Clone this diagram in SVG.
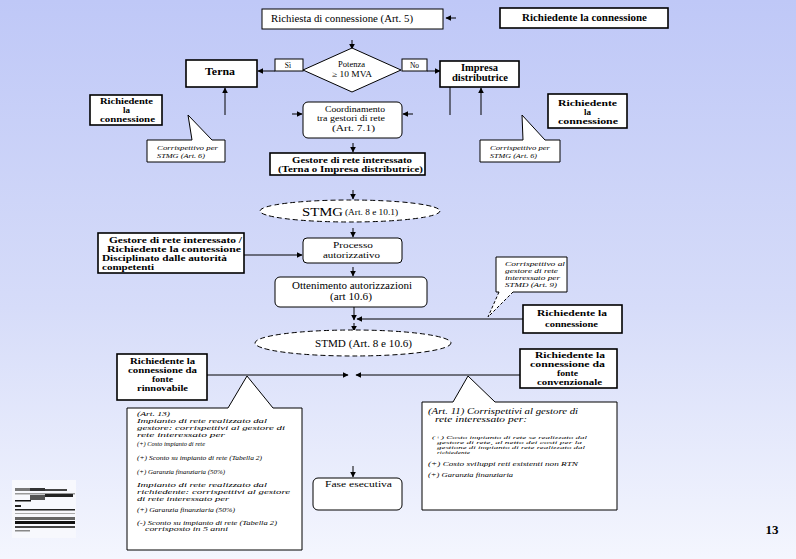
<svg xmlns="http://www.w3.org/2000/svg" width="796" height="559" viewBox="0 0 796 559">
<defs>
<linearGradient id="bg" x1="0" y1="0" x2="0" y2="1">
<stop offset="0" stop-color="#bfc8f7"/>
<stop offset="0.55" stop-color="#d6dcf9"/>
<stop offset="1" stop-color="#f4f6fe"/>
</linearGradient>
<marker id="ah" viewBox="0 0 10 10" refX="9" refY="5" markerWidth="6" markerHeight="6" orient="auto" markerUnits="userSpaceOnUse">
<path d="M0,0 L10,5 L0,10 Z" fill="#000"/>
</marker>
<style>
.box{fill:#fff;stroke:#000;stroke-width:1}
.bb{fill:#fff;stroke:#000;stroke-width:1.6}
.dash{fill:#fff;stroke:#000;stroke-width:1;stroke-dasharray:5 3}
.ln{fill:none;stroke:#000;stroke-width:1}
.ar{fill:none;stroke:#000;stroke-width:1;marker-end:url(#ah)}
text{font-family:"Liberation Serif","Times New Roman",serif;fill:#000}
.t{font-size:10px;text-anchor:middle}
.b{font-size:10px;font-weight:bold;text-anchor:middle}
.s{text-anchor:start}
.i{font-size:6.5px;font-style:italic}
.i8{font-size:8px;font-style:italic}
.i7{font-size:7px;font-style:italic}
.i5{font-size:5px;font-style:italic}
</style>
</defs>
<rect x="0" y="0" width="796" height="559" fill="url(#bg)"/>

<g id="connectors">
<line class="ar" x1="456" y1="18" x2="446" y2="18"/>
<line class="ar" x1="352" y1="40" x2="352" y2="49"/>
<line class="ar" x1="275" y1="71" x2="258" y2="71"/>
<line class="ar" x1="427" y1="71" x2="440" y2="71"/>
<line class="ar" x1="225" y1="115" x2="225" y2="88"/>
<line class="ln" x1="450" y1="87" x2="450" y2="115"/>
<line class="ar" x1="481" y1="115" x2="481" y2="88"/>
<line class="ar" x1="292" y1="114" x2="302" y2="114"/>
<line class="ar" x1="413" y1="114" x2="403" y2="114"/>
<line class="ar" x1="353" y1="143" x2="353" y2="152"/>
<line class="ar" x1="353" y1="190" x2="353" y2="199"/>
<line class="ar" x1="244" y1="255" x2="302" y2="255"/>
<line class="ar" x1="353" y1="228" x2="353" y2="237"/>
<line class="ar" x1="353" y1="267" x2="353" y2="276"/>
<line class="ar" x1="354" y1="307" x2="354" y2="320"/>
<line class="ar" x1="523" y1="319" x2="357" y2="319"/>
<line class="ar" x1="354" y1="323" x2="354" y2="331"/>
<line class="ar" x1="207" y1="375" x2="348" y2="375"/>
<line class="ar" x1="520" y1="375" x2="356" y2="375"/>
<line class="ar" x1="353" y1="466" x2="353" y2="477"/>
</g>

<g id="richiesta">
<rect class="box" x="262" y="9" width="181" height="20"/>
<text class="t s" x="271" y="22" textLength="142" lengthAdjust="spacingAndGlyphs">Richiesta di connessione (Art. 5)</text>
</g>
<g id="richiedente-top">
<rect class="bb" x="500" y="8" width="168" height="20"/>
<text class="b" x="584.5" y="21" textLength="125" lengthAdjust="spacingAndGlyphs">Richiedente la connessione</text>
</g>
<g id="potenza">
<polygon class="box" points="352,48 401,70 352,92 303,70"/>
<text class="t" x="351.5" y="67" style="font-size:8px" textLength="27" lengthAdjust="spacingAndGlyphs">Potenza</text>
<text class="t" x="352" y="77" style="font-size:8px" textLength="40" lengthAdjust="spacingAndGlyphs">≥ 10 MVA</text>
</g>
<g id="label-si">
<rect class="box" x="275" y="59" width="28" height="12"/>
<text class="t" x="288" y="68" style="font-size:7.5px">Sì</text>
</g>
<g id="label-no">
<rect class="box" x="402" y="59" width="25" height="12"/>
<text class="t" x="414.5" y="68" style="font-size:7.5px">No</text>
</g>
<g id="terna">
<rect class="bb" x="186" y="60" width="71" height="27"/>
<text class="b" x="220" y="75" textLength="30" lengthAdjust="spacingAndGlyphs">Terna</text>
</g>
<g id="impresa">
<rect class="bb" x="440" y="61" width="79" height="26"/>
<text class="b" x="479.5" y="71" textLength="37" lengthAdjust="spacingAndGlyphs">Impresa</text>
<text class="b" x="480" y="81" textLength="56" lengthAdjust="spacingAndGlyphs">distributrice</text>
</g>
<g id="coordinamento">
<rect class="box" x="303" y="102" width="99" height="36" rx="5"/>
<text class="t" x="355" y="112" style="font-size:9px" textLength="60" lengthAdjust="spacingAndGlyphs">Coordinamento</text>
<text class="t" x="351" y="121" style="font-size:9px" textLength="68" lengthAdjust="spacingAndGlyphs">tra gestori di rete</text>
<text class="t" x="353.5" y="131" style="font-size:9px" textLength="43" lengthAdjust="spacingAndGlyphs">(Art. 7.1)</text>
</g>
<g id="richiedente-left">
<rect class="bb" x="90" y="95" width="72" height="30"/>
<text class="b" x="126.5" y="104" style="font-size:9px" textLength="53" lengthAdjust="spacingAndGlyphs">Richiedente</text>
<text class="b" x="126.5" y="113" style="font-size:9px">la</text>
<text class="b" x="127.5" y="122" style="font-size:9px" textLength="55" lengthAdjust="spacingAndGlyphs">connessione</text>
</g>
<g id="richiedente-right">
<rect class="bb" x="548" y="94" width="79" height="34"/>
<text class="b" x="587.5" y="106" style="font-size:9px" textLength="59" lengthAdjust="spacingAndGlyphs">Richiedente</text>
<text class="b" x="587.5" y="115" style="font-size:9px">la</text>
<text class="b" x="588" y="124" style="font-size:9px" textLength="60" lengthAdjust="spacingAndGlyphs">connessione</text>
</g>
<g id="callout-stmg-left">
<path class="box" d="M147,140 H192 L188,115 L212,140 H225 V162 H147 Z"/>
<text class="i" x="157" y="150" textLength="61" lengthAdjust="spacingAndGlyphs">Corrispettivo per</text>
<text class="i" x="157" y="158" textLength="48" lengthAdjust="spacingAndGlyphs">STMG (Art. 6)</text>
</g>
<g id="callout-stmg-right">
<path class="box" d="M480,140 H523 L522,115 L545,140 H560 V162 H480 Z"/>
<text class="i" x="490" y="150" textLength="60" lengthAdjust="spacingAndGlyphs">Corrispettivo per</text>
<text class="i" x="490" y="158" textLength="47" lengthAdjust="spacingAndGlyphs">STMG (Art. 6)</text>
</g>
<g id="gestore">
<rect class="bb" x="270" y="153" width="155" height="22"/>
<text class="b" x="352" y="163" style="font-size:9px" textLength="120" lengthAdjust="spacingAndGlyphs">Gestore di rete interessato</text>
<text class="b" x="350.5" y="172" style="font-size:9px" textLength="145" lengthAdjust="spacingAndGlyphs">(Terna o Impresa distributrice)</text>
</g>
<g id="stmg">
<ellipse class="dash" cx="350" cy="211" rx="90" ry="11"/>
<text class="s" x="302" y="216" style="font-size:13px" textLength="41" lengthAdjust="spacingAndGlyphs">STMG</text>
<text class="s" x="345" y="215" style="font-size:8.5px" textLength="53" lengthAdjust="spacingAndGlyphs">(Art. 8 e 10.1)</text>
</g>
<g id="gestore-richiedente">
<rect class="bb" x="98" y="233" width="146" height="40"/>
<text class="b s" x="109" y="243" style="font-size:9px" textLength="133" lengthAdjust="spacingAndGlyphs">Gestore di rete interessato /</text>
<text class="b s" x="107" y="252" style="font-size:9px" textLength="134" lengthAdjust="spacingAndGlyphs">Richiedente la connessione</text>
<text class="b s" x="102" y="261" style="font-size:9px" textLength="125" lengthAdjust="spacingAndGlyphs">Disciplinato dalle autorità</text>
<text class="b s" x="102" y="270" style="font-size:9px" textLength="52" lengthAdjust="spacingAndGlyphs">competenti</text>
</g>
<g id="processo">
<rect class="box" x="303" y="238" width="99" height="25" rx="4"/>
<text class="t" x="353" y="248" style="font-size:9px" textLength="40" lengthAdjust="spacingAndGlyphs">Processo</text>
<text class="t" x="351.5" y="258" style="font-size:9px" textLength="57" lengthAdjust="spacingAndGlyphs">autorizzativo</text>
</g>
<g id="ottenimento">
<rect class="box" x="275" y="277" width="152" height="30" rx="5"/>
<text class="t" x="352" y="289" textLength="120" lengthAdjust="spacingAndGlyphs">Ottenimento autorizzazioni</text>
<text class="t" x="351" y="300" textLength="42" lengthAdjust="spacingAndGlyphs">(art 10.6)</text>
</g>
<g id="callout-stmd">
<polygon points="496,257 567,257 567,292 513,292 488,317 499,292 496,292" fill="#fff"/>
<path class="ln" d="M499,292 H496 V257 H567 V292 H513"/>
<path class="ln" stroke-dasharray="3 2" d="M499,292 L488,317 L513,292"/>
<text class="i" x="505" y="266" textLength="60" lengthAdjust="spacingAndGlyphs">Corrispettivo al</text>
<text class="i" x="505" y="273" textLength="53" lengthAdjust="spacingAndGlyphs">gestore di rete</text>
<text class="i" x="505" y="280" textLength="55" lengthAdjust="spacingAndGlyphs">interessato per</text>
<text class="i" x="505" y="287" textLength="52" lengthAdjust="spacingAndGlyphs">STMD (Art. 9)</text>
</g>
<g id="richiedente-stmd">
<rect class="bb" x="523" y="305" width="99" height="28"/>
<text class="b" x="572" y="316" style="font-size:9px" textLength="70" lengthAdjust="spacingAndGlyphs">Richiedente la</text>
<text class="b" x="571.5" y="327" style="font-size:9px" textLength="53" lengthAdjust="spacingAndGlyphs">connessione</text>
</g>
<g id="stmd">
<ellipse class="dash" cx="353" cy="343" rx="98" ry="13"/>
<text class="s" x="315" y="347" style="font-size:10px" textLength="97" lengthAdjust="spacingAndGlyphs">STMD (Art. 8 e 10.6)</text>
</g>
<g id="rinnovabile">
<rect class="bb" x="117" y="354" width="90" height="46"/>
<text class="b" x="162.5" y="364" style="font-size:9px" textLength="65" lengthAdjust="spacingAndGlyphs">Richiedente la</text>
<text class="b" x="162.5" y="373" style="font-size:9px" textLength="69" lengthAdjust="spacingAndGlyphs">connessione da</text>
<text class="b" x="162.5" y="382" style="font-size:9px" textLength="21" lengthAdjust="spacingAndGlyphs">fonte</text>
<text class="b" x="162.5" y="391" style="font-size:9px" textLength="51" lengthAdjust="spacingAndGlyphs">rinnovabile</text>
</g>
<g id="convenzionale">
<rect class="bb" x="520" y="349" width="97" height="39"/>
<text class="b" x="570" y="358" style="font-size:9px" textLength="70" lengthAdjust="spacingAndGlyphs">Richiedente la</text>
<text class="b" x="567.5" y="367" style="font-size:9px" textLength="75" lengthAdjust="spacingAndGlyphs">connessione  da</text>
<text class="b" x="567.5" y="376" style="font-size:9px" textLength="21" lengthAdjust="spacingAndGlyphs">fonte</text>
<text class="b" x="569.5" y="385" style="font-size:9px" textLength="65" lengthAdjust="spacingAndGlyphs">convenzionale</text>
</g>
<g id="callout-art13">
<path class="box" d="M127,408 H228 L247,376 L273,408 H302 V550 H127 Z"/>
<text class="i7" x="137" y="416" textLength="33" lengthAdjust="spacingAndGlyphs">(Art. 13)</text>
<text class="i7" x="137" y="423" textLength="130" lengthAdjust="spacingAndGlyphs">Impianto di rete realizzato dal</text>
<text class="i7" x="137" y="430" textLength="148" lengthAdjust="spacingAndGlyphs">gestore:  corrispettivi al gestore di</text>
<text class="i7" x="137" y="436.5" textLength="88" lengthAdjust="spacingAndGlyphs">rete interessato per</text>
<text class="i" x="137" y="446" textLength="68" lengthAdjust="spacingAndGlyphs">(+)  Costo impianto di rete</text>
<text class="i" x="137" y="460" textLength="125" lengthAdjust="spacingAndGlyphs">(+)  Sconto su impianto di rete (Tabella 2)</text>
<text class="i" x="137" y="474" textLength="88" lengthAdjust="spacingAndGlyphs">(+)  Garanzia finanziaria (50%)</text>
<text class="i7" x="137" y="487" textLength="130" lengthAdjust="spacingAndGlyphs">Impianto di rete realizzato dal</text>
<text class="i7" x="137" y="494" textLength="153" lengthAdjust="spacingAndGlyphs">richiedente:  corrispettivi al gestore</text>
<text class="i7" x="137" y="500.5" textLength="92" lengthAdjust="spacingAndGlyphs">di rete interessato per</text>
<text class="i" x="137" y="512" textLength="98" lengthAdjust="spacingAndGlyphs">(+)  Garanzia finanziaria (50%)</text>
<text class="i" x="137" y="524.5" textLength="140" lengthAdjust="spacingAndGlyphs">(-)  Sconto su impianto di rete (Tabella 2)</text>
<text class="i" x="145" y="531" textLength="83" lengthAdjust="spacingAndGlyphs">corrisposto in 5 anni</text>
</g>
<g id="callout-art11">
<path class="box" d="M422,402 H453 L468,376 L495,402 H617 V510 H422 Z"/>
<text class="i8" x="428" y="414" textLength="150" lengthAdjust="spacingAndGlyphs">(Art. 11) Corrispettivi al gestore di</text>
<text class="i8" x="435" y="422" textLength="92" lengthAdjust="spacingAndGlyphs">rete interessato per:</text>
<text class="i5" x="432" y="439" textLength="155" lengthAdjust="spacingAndGlyphs">(+) Costo impianto di rete se realizzato dal</text>
<text class="i5" x="437" y="444" textLength="145" lengthAdjust="spacingAndGlyphs">gestore di rete, al netto dei costi per la</text>
<text class="i5" x="437" y="449" textLength="148" lengthAdjust="spacingAndGlyphs">gestione di impianto di rete realizzato dal</text>
<text class="i5" x="437" y="454" textLength="33" lengthAdjust="spacingAndGlyphs">richiedente</text>
<text class="i" x="428" y="466" textLength="150" lengthAdjust="spacingAndGlyphs">(+) Costo sviluppi reti esistenti non RTN</text>
<text class="i" x="428" y="477" textLength="85" lengthAdjust="spacingAndGlyphs">(+) Garanzia finanziaria</text>
</g>
<g id="fase-esecutiva">
<rect class="box" x="313" y="478" width="89" height="32" rx="5"/>
<text class="t" x="358.5" y="487" style="font-size:9px" textLength="67" lengthAdjust="spacingAndGlyphs">Fase esecutiva</text>
</g>

<g id="logo">
<rect x="12" y="480" width="64" height="58" fill="#f7f8fd"/>
<rect x="15" y="488" width="30" height="3" fill="#777"/>
<rect x="30" y="488" width="15" height="3" fill="#333"/>
<rect x="45" y="489" width="22" height="2" fill="#444"/>
<rect x="15" y="493" width="60" height="1.5" fill="#999"/>
<rect x="30" y="495" width="15" height="5" fill="#555"/>
<rect x="45" y="494" width="28" height="3" fill="#222"/>
<rect x="15" y="500" width="16" height="1.5" fill="#111"/>
<rect x="15" y="505" width="6" height="2" fill="#222"/>
<rect x="15" y="509" width="60" height="1.5" fill="#222"/>
<rect x="15" y="513" width="60" height="1" fill="#aaa"/>
<rect x="15" y="517" width="60" height="3" fill="#666"/>
<rect x="15" y="521" width="60" height="3" fill="#111"/>
<rect x="15" y="526" width="60" height="2" fill="#444"/>
<rect x="15" y="530" width="15" height="1.5" fill="#888"/>
</g>
<text x="772" y="534" style="font-size:13px;font-weight:bold;text-anchor:middle" fill="#1a2040">13</text>
</svg>
